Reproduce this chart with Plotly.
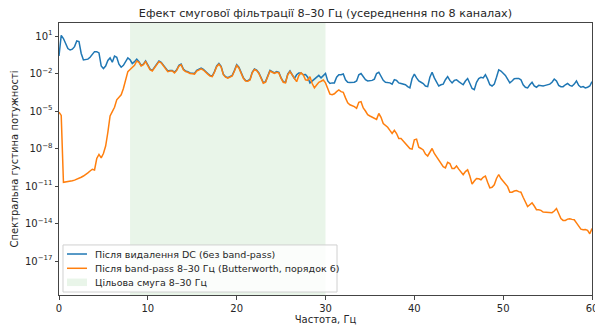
import numpy as np
import plotly.graph_objects as go

# Frequency grid (Hz), 0.25 Hz resolution
freqs = np.arange(241) * 0.25

# log10 of PSD after DC removal (no band-pass)
blue_log10_psd = [
    -0.6, 1.05, 0.8, 0.35,
    0.0, -0.12, -0.05, 0.15,
    0.6, 0.55, -0.4, -0.92,
    -0.9, -0.85, -0.7, -0.5,
    -0.25, -0.25, -0.35, -1.4,
    -1.6, -1.4, -0.95, -0.75,
    -1.1, -0.6, -0.7, -1.25,
    -1.5, -1.35, -1.0, -0.75,
    -0.9, -1.2, -1.05, -0.85,
    -1.05, -1.35, -1.25, -1.0,
    -1.3, -1.65, -1.75, -1.5,
    -1.25, -1.0, -1.1, -1.35,
    -1.5, -1.8, -1.75, -1.75,
    -1.9, -1.7, -1.35, -1.25,
    -1.65, -1.8, -1.85, -1.95,
    -1.97, -2.0, -1.75, -1.63,
    -1.57, -1.67, -1.87, -2.0,
    -2.15, -2.2, -1.85, -1.4,
    -1.2, -1.43, -2.05, -2.25,
    -2.33, -2.25, -2.15, -1.75,
    -1.3, -1.5, -1.95, -2.33,
    -2.55, -2.57, -2.47, -1.9,
    -1.63, -1.72, -1.95, -2.3,
    -2.73, -2.65, -2.25, -1.75,
    -1.85, -1.95, -1.85, -1.9,
    -2.35, -2.65, -2.7, -2.05,
    -1.8, -2.1, -2.4, -2.1,
    -1.95, -1.95, -2.1, -2.08,
    -2.3, -2.75, -2.6, -2.4,
    -2.25, -2.15, -2.35, -2.2,
    -2.0, -2.6, -2.8, -2.75,
    -2.75, -2.3, -2.1, -2.1,
    -2.04, -2.5, -2.7, -2.72,
    -2.73, -2.7, -2.6, -2.1,
    -2.0, -2.3, -2.5, -2.6,
    -2.6, -2.55, -2.45, -2.0,
    -1.9, -2.2, -2.55, -2.7,
    -2.72, -2.75, -2.85, -2.5,
    -2.55, -2.75, -2.8, -2.82,
    -2.9, -3.05, -3.15, -2.4,
    -2.05, -2.35, -2.6, -2.7,
    -2.8, -3.0, -3.05, -2.3,
    -1.9, -2.35, -2.7, -3.0,
    -2.9, -2.85, -2.5, -2.25,
    -2.55, -2.75, -2.55, -2.5,
    -2.65, -2.8, -2.9, -2.6,
    -2.4, -2.8, -3.2, -3.3,
    -2.7, -2.4, -2.3, -2.35,
    -2.1, -2.45, -2.9, -3.0,
    -2.85, -2.3, -1.7, -1.8,
    -1.95, -2.15, -2.45, -2.75,
    -2.6, -2.42, -2.39, -2.39,
    -2.5, -2.9, -3.1, -3.15,
    -2.9, -2.7, -3.0, -3.1,
    -2.95, -3.0, -3.0, -2.95,
    -2.92, -2.85, -2.7, -2.45,
    -2.6, -2.95, -3.05, -3.05,
    -2.9, -2.8, -2.95, -3.02,
    -2.85, -2.6, -2.95, -3.1,
    -3.05, -3.15, -3.1, -3.0,
    -2.65,
]

# log10 of PSD after band-pass 8-30 Hz
orange_log10_psd = [
    -5.1, -5.35, -10.7, -10.68,
    -10.65, -10.62, -10.58, -10.53,
    -10.47, -10.4, -10.3, -10.2,
    -10.1, -9.95, -9.8, -9.66,
    -9.72, -8.8, -8.47, -8.75,
    -8.4, -7.8, -6.7, -5.4,
    -5.05, -4.7, -4.1, -3.9,
    -3.7, -3.2, -2.45, -1.85,
    -1.68, -1.55, -1.35, -1.0,
    -1.1, -1.4, -1.3, -1.05,
    -1.35, -1.7, -1.8, -1.55,
    -1.3, -1.05, -1.15, -1.4,
    -1.55, -1.85, -1.8, -1.8,
    -1.95, -1.75, -1.4, -1.3,
    -1.7, -1.85, -1.9, -2.0,
    -2.02, -2.05, -1.8, -1.68,
    -1.62, -1.72, -1.92, -2.05,
    -2.2, -2.25, -1.9, -1.45,
    -1.25, -1.48, -2.1, -2.3,
    -2.38, -2.3, -2.2, -1.8,
    -1.35, -1.55, -2.0, -2.38,
    -2.6, -2.62, -2.52, -1.95,
    -1.68, -1.77, -2.0, -2.35,
    -2.78, -2.7, -2.3, -1.8,
    -1.9, -2.0, -1.9, -1.95,
    -2.4, -2.7, -2.75, -2.1,
    -1.85, -2.15, -2.45, -2.65,
    -2.15, -1.95, -2.12, -2.5,
    -2.55, -2.25, -2.8, -3.15,
    -2.92, -2.7, -2.62, -2.52,
    -2.75, -3.2, -3.65, -3.7,
    -3.62, -3.45, -3.32, -3.45,
    -3.5, -3.95, -4.35, -4.5,
    -4.55, -4.65, -4.78, -4.3,
    -4.25, -4.75, -5.0, -5.3,
    -5.4, -5.5, -5.6, -5.67,
    -5.2, -5.5, -6.0, -6.15,
    -6.3, -6.55, -6.79, -6.55,
    -6.8, -7.2, -7.2, -7.4,
    -7.6, -7.72, -8.0, -8.05,
    -7.3, -7.25, -7.9, -8.0,
    -8.12, -8.45, -8.6, -8.3,
    -8.0, -8.4, -8.65, -8.9,
    -9.1, -9.45, -9.55, -9.1,
    -9.2, -9.6, -9.6, -9.4,
    -9.65, -9.9, -10.1, -9.85,
    -9.7, -10.2, -10.85, -10.6,
    -10.4, -10.42, -10.5, -10.3,
    -10.2, -10.7, -11.15, -11.1,
    -10.9, -10.4, -10.08, -10.4,
    -10.65, -10.85, -11.05, -11.5,
    -11.5, -11.4, -11.37, -11.45,
    -11.5, -11.9, -12.3, -12.65,
    -12.5, -12.35, -12.6, -12.9,
    -12.9, -12.95, -13.08, -13.1,
    -13.1, -13.12, -13.13, -13.0,
    -12.8, -13.2, -13.6, -13.75,
    -13.75, -13.65, -13.62, -13.67,
    -13.7, -13.95, -14.2, -14.45,
    -14.5, -14.48, -14.55, -14.82,
    -14.4,
]

band_hz = [8, 30]
x_ticks = [0, 10, 20, 30, 40, 50, 60]
y_tick_exponents = [1, -2, -5, -8, -11, -14, -17]

title_text = "Ефект смугової фільтрації 8–30 Гц (усереднення по 8 каналах)"
name_blue = "Після видалення DC (без band-pass)"
name_orange = "Після band-pass 8–30 Гц (Butterworth, порядок 6)"
name_band = "Цільова смуга 8–30 Гц"

color_blue = "#1f77b4"
color_orange = "#ff7f0e"
color_band = "rgba(44,160,44,0.1)"

blue_psd = np.power(10.0, blue_log10_psd)
orange_psd = np.power(10.0, orange_log10_psd)

font_family = "DejaVu Sans"
text_color = "#262626"

fig = go.Figure()
fig.add_trace(go.Scatter(x=freqs, y=blue_psd, mode="lines", name=name_blue,
                         line=dict(color=color_blue, width=1.5), showlegend=False))
fig.add_trace(go.Scatter(x=freqs, y=orange_psd, mode="lines", name=name_orange,
                         line=dict(color=color_orange, width=1.5), showlegend=False))

fig.add_shape(type="rect", xref="x", yref="y domain",
              x0=band_hz[0], x1=band_hz[1], y0=0, y1=1,
              fillcolor=color_band, line=dict(width=0), layer="below")

# Compact matplotlib-style legend box (paper coordinates)
leg_x0, leg_x1, leg_y0, leg_y1 = 0.0075, 0.5216, 0.011, 0.184
fig.add_shape(type="rect", xref="paper", yref="paper",
              x0=leg_x0, x1=leg_x1, y0=leg_y0, y1=leg_y1,
              fillcolor="rgba(255,255,255,0.8)", line=dict(color="#d0d0d0", width=1),
              layer="above")
sample_x0, sample_x1, text_x = 0.0150, 0.0525, 0.0638
legend_rows = [
    (name_blue, color_blue, 0.1507, "line"),
    (name_orange, color_orange, 0.0982, "line"),
    (name_band, color_band, 0.0467, "patch"),
]
for label, color, yc, kind in legend_rows:
    if kind == "line":
        fig.add_shape(type="line", xref="paper", yref="paper",
                      x0=sample_x0, x1=sample_x1, y0=yc, y1=yc,
                      line=dict(color=color, width=1.5), layer="above")
    else:
        fig.add_shape(type="rect", xref="paper", yref="paper",
                      x0=sample_x0, x1=sample_x1, y0=yc - 0.0138, y1=yc + 0.0138,
                      fillcolor=color, line=dict(width=0), layer="above")
    fig.add_annotation(text=label, xref="paper", yref="paper", x=text_x, y=yc,
                       xanchor="left", yanchor="middle", showarrow=False,
                       font=dict(size=9.5, color=text_color, family=font_family))

fig.update_layout(
    width=595, height=329,
    margin=dict(l=59, r=3, t=23, b=34),
    paper_bgcolor="white", plot_bgcolor="white",
    font=dict(family=font_family, size=10, color=text_color),
    title=dict(text=title_text, x=0.547, xanchor="center", y=0.96, yanchor="middle",
               font=dict(size=11.2, color=text_color)),
    showlegend=False,
)

fig.update_xaxes(range=[0, 60], tickvals=x_ticks, ticktext=[str(v) for v in x_ticks],
                 showgrid=False, zeroline=False, showline=True, linecolor="#444",
                 linewidth=1, mirror=True, ticks="outside", ticklen=3.5, tickcolor="#444",
                 ticklabeloverflow="allow", automargin=False,
                 title=dict(text="Частота, Гц", font=dict(size=10), standoff=3),
                 tickfont=dict(size=10))
fig.update_yaxes(type="log", range=[-19.72, 2.04],
                 tickvals=[10.0 ** e for e in y_tick_exponents],
                 ticktext=["10<sup>%s</sup>" % (str(e) if e >= 0 else "\u2212" + str(-e)) for e in y_tick_exponents],
                 showgrid=False, zeroline=False, showline=True, linecolor="#444",
                 linewidth=1, mirror=True, ticks="outside", ticklen=3.5, tickcolor="#444",
                 automargin=False,
                 title=dict(text="Спектральна густина потужності", font=dict(size=10), standoff=4),
                 tickfont=dict(size=10))

fig.write_html("out.html")
